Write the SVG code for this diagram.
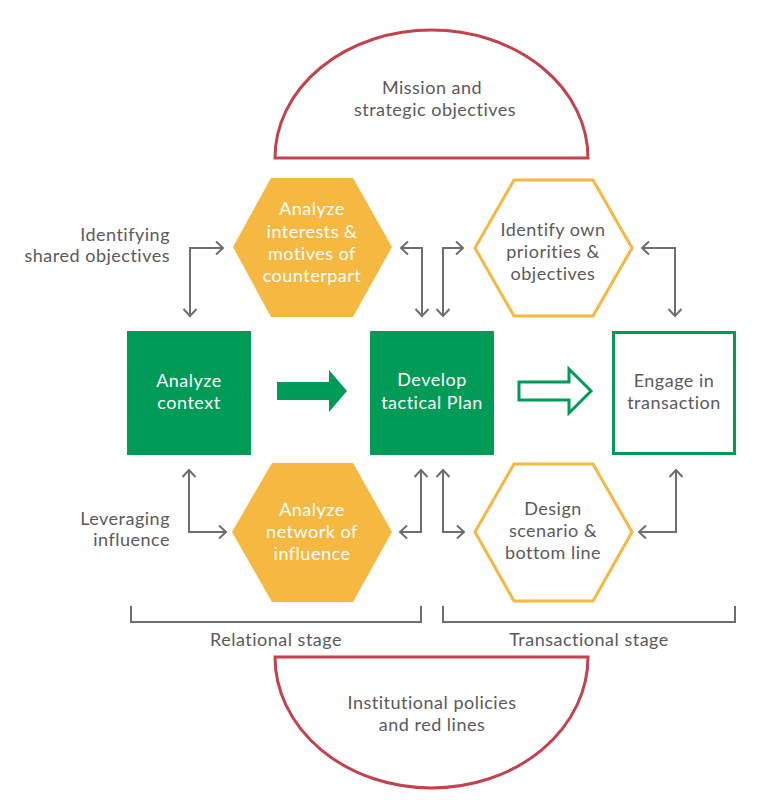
<svg xmlns="http://www.w3.org/2000/svg" width="768" height="800" viewBox="0 0 768 800">
<style>
text{font-family:Lato,"Noto Sans","Liberation Sans",sans-serif;font-size:18px;letter-spacing:0.5px;text-anchor:middle;fill:#5a5a5a}
.w{fill:#ffffff}
.r{text-anchor:end}
.half{fill:#ffffff;stroke:#c2434d;stroke-width:3}
.hexf{fill:#f5b841}
.hexo{fill:#ffffff;stroke:#f5b841;stroke-width:3}
.sq{fill:#009b57}
.sqo{fill:#ffffff;stroke:#009b57;stroke-width:3}
.con{fill:none;stroke:#6e6e6e;stroke-width:2;marker-start:url(#ah);marker-end:url(#ah)}
.br{fill:none;stroke:#6e6e6e;stroke-width:2}
</style>
<defs>
<marker id="ah" viewBox="-9 -8 11 16" refX="0" refY="0" markerWidth="11" markerHeight="16" markerUnits="userSpaceOnUse" orient="auto-start-reverse">
<path d="M-7,-6.5 L0,0 L-7,6.5" fill="none" stroke="#6e6e6e" stroke-width="2"/>
</marker>
</defs>
<rect width="768" height="800" fill="#ffffff"/>
<g id="mission">
<path class="half" d="M275,158 A156.5,128 0 0 1 588,158 Z"/>
<text x="432" y="94">Mission and</text>
<text x="435" y="116">strategic objectives</text>
</g>
<g id="institutional">
<path class="half" d="M275,657 L588,657 A156.5,131 0 0 1 275,657 Z"/>
<text x="432" y="709">Institutional policies</text>
<text x="432" y="731">and red lines</text>
</g>
<g id="hex-interests">
<polygon class="hexf" points="233,247 271,178 353,178 392,247 353,317 271,317"/>
<text class="w" x="312" y="215">Analyze</text>
<text class="w" x="312" y="238">interests &amp;</text>
<text class="w" x="312" y="260">motives of</text>
<text class="w" x="312" y="282">counterpart</text>
</g>
<g id="hex-priorities">
<polygon class="hexo" points="475,248 514,180 593,180 632,248 593,316 514,316"/>
<text x="553" y="236">Identify own</text>
<text x="553" y="258">priorities &amp;</text>
<text x="553" y="280">objectives</text>
</g>
<g id="hex-network">
<polygon class="hexf" points="232,532 272,463 353,463 392,532 353,602 272,602"/>
<text class="w" x="312" y="516">Analyze</text>
<text class="w" x="312" y="538">network of</text>
<text class="w" x="312" y="560">influence</text>
</g>
<g id="hex-design">
<polygon class="hexo" points="475,532 514,464 593,464 632,532 593,601 514,601"/>
<text x="553" y="515">Design</text>
<text x="553" y="537">scenario &amp;</text>
<text x="553" y="559">bottom line</text>
</g>
<g id="analyze-context">
<rect class="sq" x="127" y="331" width="124" height="124"/>
<text class="w" x="189" y="387">Analyze</text>
<text class="w" x="189" y="409">context</text>
</g>
<g id="develop-plan">
<rect class="sq" x="370" y="331" width="124" height="124"/>
<text class="w" x="432" y="386">Develop</text>
<text class="w" x="432" y="409">tactical Plan</text>
</g>
<g id="engage">
<rect class="sqo" x="613.5" y="332.5" width="121" height="121"/>
<text x="674" y="387">Engage in</text>
<text x="674" y="409">transaction</text>
</g>
<g id="labels">
<text class="r" x="170" y="241">Identifying</text>
<text class="r" x="170" y="262">shared objectives</text>
<text class="r" x="170" y="525">Leveraging</text>
<text class="r" x="170" y="546">influence</text>
<text x="276" y="646">Relational stage</text>
<text x="589" y="646">Transactional stage</text>
</g>
<g id="connectors">
<path fill="#009b57" d="M277,382 L329,382 L329,370 L347,391 L329,412 L329,400 L277,400 Z"/>
<path fill="#ffffff" stroke="#009b57" stroke-width="3" d="M519,382 L569,382 L569,369 L591,391 L569,413 L569,400 L519,400 Z"/>
<path class="con" d="M223,248 L190,248 L190,316"/>
<path class="con" d="M401,248 L422,248 L422,316"/>
<path class="con" d="M463,248 L443,248 L443,316"/>
<path class="con" d="M642,248 L675,248 L675,316"/>
<path class="con" d="M226,532 L189,532 L189,470"/>
<path class="con" d="M400,532 L421,532 L421,470"/>
<path class="con" d="M464,532 L443,532 L443,470"/>
<path class="con" d="M639,532 L676,532 L676,470"/>
<path class="br" d="M131,606 L131,622 L421,622 L421,606"/>
<path class="br" d="M443,606 L443,622 L735,622 L735,606"/>
</g>
</svg>
